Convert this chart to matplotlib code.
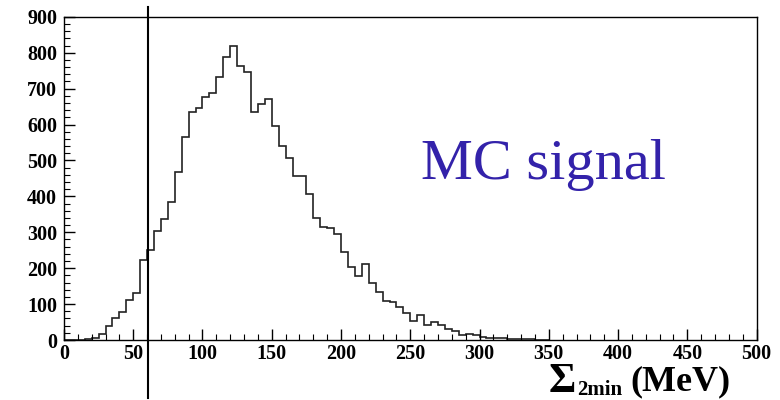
import numpy as np
import matplotlib
matplotlib.use("Agg")
import matplotlib.pyplot as plt
from matplotlib.ticker import MultipleLocator

plt.rcParams['font.family'] = ['Liberation Serif', 'DejaVu Serif']

# histogram of Sigma_2min, 5 MeV bins from 0 to 350
bin_edges = np.arange(0, 355, 5)
counts = [0, 0, 0, 2, 5, 18, 40, 60, 77, 110,
          131, 223, 251, 303, 336, 384, 468, 566, 634, 645,
          677, 687, 733, 787, 820, 764, 747, 634, 657, 672,
          596, 540, 507, 457, 457, 407, 341, 315, 312, 295,
          245, 202, 178, 213, 160, 134, 108, 106, 93, 75,
          53, 70, 42, 51, 42, 32, 25, 13, 18, 15,
          8, 6, 5, 6, 3, 3, 2, 2, 1, 1]
cut_value = 61  # MeV, vertical cut line

fig = plt.figure(figsize=(7.8, 4.0), dpi=100)
ax = fig.add_axes([0.082, 0.15, 0.888, 0.808])

ax.stairs(counts, bin_edges, color='#222222', linewidth=1.2)
ax.set_xlim(0, 500)
ax.set_ylim(0, 900)

ax.xaxis.set_major_locator(MultipleLocator(50))
ax.xaxis.set_minor_locator(MultipleLocator(10))
ax.yaxis.set_major_locator(MultipleLocator(100))
ax.yaxis.set_minor_locator(MultipleLocator(20))
ax.tick_params(which='both', direction='in', top=False, right=False)
ax.tick_params(which='major', length=8, width=1, labelsize=14.5)
ax.tick_params(which='minor', length=4, width=0.8)
ax.tick_params(axis='x', pad=3)
ax.tick_params(axis='y', pad=5)
for lab in ax.get_xticklabels() + ax.get_yticklabels():
    lab.set_fontweight('bold')
for s in ax.spines.values():
    s.set_linewidth(1.0)

ax.axvline(cut_value, ymin=-0.18, ymax=1.03, color='black', linewidth=1.5, clip_on=False)

ax.text(258, 448, 'MC signal', color='#3322aa', fontsize=42, va='baseline')

# axis title: Sigma_2min (MeV)
fig.text(0.703, 0.021, 'Σ', fontsize=30, fontweight='bold', va='baseline')
fig.text(0.740, 0.013, '2min', fontsize=15, fontweight='bold', va='baseline')
fig.text(0.808, 0.023, '(MeV)', fontsize=26, fontweight='bold', va='baseline')

fig.savefig('out.png', dpi=100)
